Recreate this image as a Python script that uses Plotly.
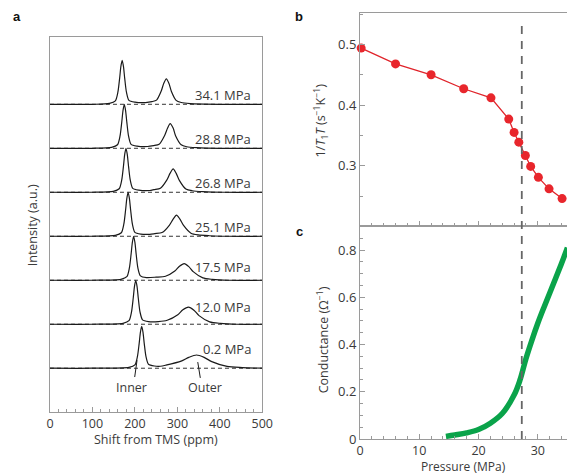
import plotly.graph_objects as go

# ---------------- DATA ----------------
# Panel a: NMR spectra (shift in ppm, intensity in a.u., bottom to top)
spectrum_labels = ["0.2 MPa", "12.0 MPa", "17.5 MPa", "25.1 MPa", "26.8 MPa", "28.8 MPa", "34.1 MPa"]

shift_02 = [0, 100, 186, 200, 206, 210, 213, 216, 219, 222, 226, 232, 246, 260, 273, 309, 327, 345, 363, 381, 417, 453, 500]
int_02 = [0, 0, 0.02, 0.075, 0.27, 0.56, 0.82, 0.95, 0.82, 0.56, 0.27, 0.09, 0.05, 0.045, 0.07, 0.16, 0.246, 0.30, 0.246, 0.15, 0.04, 0.015, 0]

shift_120 = [0, 100, 172, 186, 192, 196, 199, 202, 205, 208, 212, 218, 232, 255, 276, 301, 313, 326, 339, 351, 376, 401, 440, 500]
int_120 = [0, 0, 0.02, 0.08, 0.28, 0.59, 0.86, 1.0, 0.86, 0.59, 0.28, 0.1, 0.06, 0.06, 0.09, 0.215, 0.33, 0.39, 0.32, 0.195, 0.055, 0.02, 0, 0]

shift_175 = [0, 100, 167, 181, 187, 191, 194, 197, 200, 203, 207, 213, 227, 250, 272, 294, 305, 316, 327, 338, 360, 382, 420, 500]
int_175 = [0, 0, 0.02, 0.08, 0.28, 0.59, 0.86, 1.0, 0.86, 0.59, 0.28, 0.1, 0.06, 0.07, 0.09, 0.21, 0.32, 0.38, 0.31, 0.19, 0.053, 0.02, 0, 0]

shift_251 = [0, 100, 154, 168, 174, 178, 181, 184, 187, 190, 194, 200, 214, 235, 247, 264, 281, 290, 298, 306, 315, 332, 349, 375, 420, 500]
int_251 = [0, 0, 0.02, 0.08, 0.28, 0.59, 0.86, 1.0, 0.86, 0.59, 0.28, 0.09, 0.05, 0.045, 0.06, 0.085, 0.25, 0.39, 0.48, 0.39, 0.24, 0.07, 0.03, 0.012, 0, 0]

shift_268 = [0, 100, 149, 163, 169, 173, 176, 179, 182, 185, 189, 195, 209, 235, 245, 260, 275, 283, 290, 297, 305, 320, 335, 360, 410, 500]
int_268 = [0, 0, 0.02, 0.08, 0.28, 0.59, 0.86, 1.0, 0.86, 0.59, 0.28, 0.09, 0.05, 0.04, 0.06, 0.09, 0.275, 0.435, 0.53, 0.435, 0.265, 0.075, 0.035, 0.015, 0, 0]

shift_288 = [0, 100, 145, 159, 165, 169, 172, 175, 178, 181, 185, 191, 205, 230, 244, 257, 270, 277, 283, 290, 296, 309, 322, 345, 400, 500]
int_288 = [0, 0, 0.02, 0.08, 0.28, 0.59, 0.86, 1.0, 0.86, 0.59, 0.28, 0.09, 0.05, 0.04, 0.06, 0.09, 0.29, 0.46, 0.56, 0.46, 0.28, 0.08, 0.035, 0.015, 0, 0]

shift_341 = [0, 100, 140, 154, 160, 164, 167, 170, 173, 176, 180, 186, 200, 225, 240, 251, 262, 268, 274, 280, 286, 297, 309, 330, 400, 500]
int_341 = [0, 0, 0.02, 0.08, 0.28, 0.59, 0.86, 1.0, 0.86, 0.59, 0.28, 0.09, 0.05, 0.04, 0.06, 0.095, 0.30, 0.48, 0.58, 0.48, 0.29, 0.09, 0.04, 0.015, 0, 0]

spectra_shift = [shift_02, shift_120, shift_175, shift_251, shift_268, shift_288, shift_341]
spectra_int = [int_02, int_120, int_175, int_251, int_268, int_288, int_341]

# Panel b: 1/T1T vs pressure
b_pressure = [0.2, 6.0, 12.0, 17.5, 22.1, 25.1, 26.0, 26.8, 27.9, 28.8, 30.1, 31.9, 34.1]
b_rate = [0.494, 0.468, 0.450, 0.427, 0.412, 0.377, 0.355, 0.339, 0.317, 0.299, 0.281, 0.262, 0.246]

# Panel c: conductance vs pressure
c_pressure = [14.5, 16, 18, 20, 22, 24, 26, 27, 28, 29, 30, 31, 32, 33, 34, 35]
c_conductance = [0.011, 0.017, 0.026, 0.040, 0.067, 0.108, 0.186, 0.25, 0.34, 0.418, 0.49, 0.555, 0.617, 0.68, 0.743, 0.81]

transition_pressure = 27.3

# ---------------- STYLE / LAYOUT ----------------
W, H = 575, 476
FONT = "Open Sans"
TXT = "#3a3a3a"
AX = "#9a9a9a"
label_dy = [0.44, 0.40, 0.29, 0.22, 0.22, 0.22, 0.20]

def px_x(p):
    return p / W

def px_y(p):
    return 1 - p / H

fig = go.Figure()

# panel a baselines (dashed) and spectra
for i, (xs, ys) in enumerate(zip(spectra_shift, spectra_int)):
    fig.add_shape(type="line", xref="x", yref="y", x0=0, x1=500, y0=i, y1=i,
                  line=dict(color="#333333", width=1, dash="4px,3px"), layer="below")
    fig.add_trace(go.Scatter(x=xs, y=[i + v for v in ys], mode="lines",
                             line=dict(color="#1a1a1a", width=1.2, shape="spline", smoothing=0.7),
                             xaxis="x", yaxis="y", showlegend=False, hoverinfo="skip"))
    fig.add_annotation(x=477, y=i + label_dy[i], xref="x", yref="y", text=spectrum_labels[i],
                       showarrow=False, xanchor="right", yanchor="middle",
                       font=dict(family=FONT, size=13, color=TXT))

# Inner / Outer pointers
fig.add_shape(type="line", xref="x", yref="y", x0=205, y0=0.18, x1=199.5, y1=-0.2,
              line=dict(color="#1a1a1a", width=1))
fig.add_shape(type="line", xref="x", yref="y", x0=348, y0=0.14, x1=354, y1=-0.22,
              line=dict(color="#1a1a1a", width=1))
fig.add_annotation(x=193, y=-0.44, xref="x", yref="y", text="Inner", showarrow=False,
                   font=dict(family=FONT, size=12.5, color=TXT))
fig.add_annotation(x=365, y=-0.44, xref="x", yref="y", text="Outer", showarrow=False,
                   font=dict(family=FONT, size=12.5, color=TXT))

# panel b
fig.add_trace(go.Scatter(x=b_pressure, y=b_rate, mode="lines+markers",
                         line=dict(color="#e0242b", width=1.3),
                         marker=dict(color="#e8262c", size=9),
                         xaxis="x2", yaxis="y2", showlegend=False, cliponaxis=False))

# panel c
fig.add_trace(go.Scatter(x=c_pressure, y=c_conductance, mode="lines",
                         line=dict(color="#0aa34a", width=5.5, shape="spline"),
                         xaxis="x3", yaxis="y3", showlegend=False, cliponaxis=False))

# vertical dashed line through b and c
fig.add_shape(type="line", xref="x2", yref="paper", x0=transition_pressure, x1=transition_pressure,
              y0=px_y(439.3), y1=px_y(13), line=dict(color="#666666", width=1.8, dash="8px,7px"))

def common_ax(size):
    return dict(showline=True, linecolor=AX, linewidth=1, mirror=True, showgrid=False,
                zeroline=False, tickcolor=AX,
                tickfont=dict(family=FONT, size=size, color=TXT))

xa_dom = [px_x(39), px_x(257)]
bc_dom = [px_x(357.3), px_x(570.3)]

fig.update_layout(
    width=W, height=H, margin=dict(l=0, r=0, t=0, b=0),
    paper_bgcolor="white", plot_bgcolor="white",
    xaxis=dict(domain=xa_dom, range=[0, 500], anchor="y", dtick=100, ticks="inside", ticklen=5,
               minor=dict(dtick=20, ticklen=3, ticks="inside", tickcolor=AX), **common_ax(12.5)),
    yaxis=dict(domain=[px_y(412), px_y(30)], range=[-1.0, 7.52], anchor="x",
               showticklabels=False, ticks="", **common_ax(12)),
    xaxis2=dict(domain=bc_dom, range=[0, 35], anchor="y2", dtick=10, ticks="inside", ticklen=5,
                showticklabels=False,
                minor=dict(dtick=2, ticklen=3, ticks="inside", tickcolor=AX), **common_ax(13)),
    yaxis2=dict(domain=[px_y(222.7), px_y(5)], range=[0.2, 0.552], anchor="x2",
                tickvals=[0.3, 0.4, 0.5], ticks="inside", ticklen=5,
                minor=dict(dtick=0.05, tick0=0.2, ticklen=3, ticks="inside", tickcolor=AX), **common_ax(13)),
    xaxis3=dict(domain=bc_dom, range=[0, 35], anchor="y3", dtick=10, ticks="inside", ticklen=5,
                minor=dict(dtick=2, ticklen=3, ticks="inside", tickcolor=AX), **common_ax(12.5)),
    yaxis3=dict(domain=[px_y(439.3), px_y(222.7)], range=[0, 0.9], anchor="x3",
                tickvals=[0, 0.2, 0.4, 0.6, 0.8], ticktext=["0", "0.2", "0.4", "0.6", "0.8"],
                ticks="inside", ticklen=5,
                minor=dict(dtick=0.05, tick0=0, ticklen=3, ticks="inside", tickcolor=AX), **common_ax(13)),
)

def paper_text(x, y, text, size=12.5, angle=0, family=FONT, color=TXT):
    fig.add_annotation(x=px_x(x), y=px_y(y), xref="paper", yref="paper", text=text,
                       showarrow=False, textangle=angle, xanchor="center", yanchor="middle",
                       font=dict(family=family, size=size, color=color))

# axis titles
paper_text(148, 440, "Shift from TMS (ppm)")
paper_text(21, 221, "Intensity (a.u.)", angle=-90)
paper_text(464, 467.5, "Pressure (MPa)", size=12)
paper_text(317, 115, "1/<i>T</i><sub>1</sub><i>T</i> (s<sup>−1</sup>K<sup>−1</sup>)", angle=-90)
paper_text(319, 338, "Conductance (Ω<sup>−1</sup>)", angle=-90)

# panel letters
paper_text(5, 9, "<b>a</b>", size=13, family="Liberation Sans", color="#111")
paper_text(295, 9, "<b>b</b>", size=13, family="Liberation Sans", color="#111")
paper_text(295, 228, "<b>c</b>", size=13, family="Liberation Sans", color="#111")

fig.write_html("out.html")
